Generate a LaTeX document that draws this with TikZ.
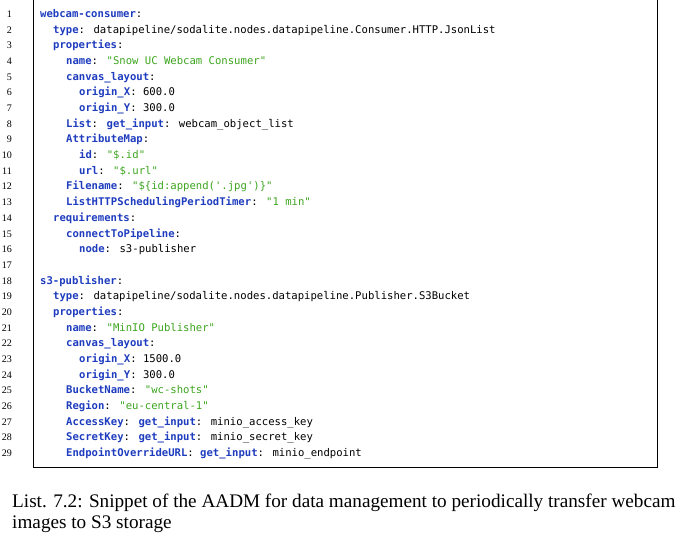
\documentclass[tikz,border=0pt]{standalone}
\usepackage{fontspec}
\setmainfont{Liberation Serif}
\newfontfamily\codefont{DejaVu Sans Mono}
\definecolor{keyblue}{RGB}{30,60,190}
\definecolor{strgreen}{RGB}{60,165,30}
\newcommand{\ky}[1]{\textbf{\color{keyblue}#1}}
\newcommand{\st}[1]{{\color{strgreen}#1}}
\tikzset{
  codeline/.style={anchor=base west, inner sep=0pt, font=\codefont\fontsize{10.6}{12}\selectfont},
  lineno/.style={anchor=base east, inner sep=0pt, font=\fontsize{10}{11}\selectfont},
  caption/.style={anchor=base west, inner sep=0pt, font=\fontsize{19.2}{21}\selectfont}
}
\begin{document}
\begin{tikzpicture}[x=1pt,y=-1pt]
  \useasboundingbox (0,0) rectangle (685,539);
  % Cadre du listing
  \draw [line width=0.8pt] (33,-2) -- (33,467) -- (657,467) -- (657,-2);
  % Lignes de code
  \foreach \n/\ind/\txt in {
    1/0/{\ky{webcam-consumer}:},
    2/1/{\ky{type}: datapipeline/sodalite.nodes.datapipeline.Consumer.HTTP.JsonList},
    3/1/{\ky{properties}:},
    4/2/{\ky{name}: \st{"Snow UC Webcam Consumer"}},
    5/2/{\ky{canvas\_layout}:},
    6/3/{\ky{origin\_X}: 600.0},
    7/3/{\ky{origin\_Y}: 300.0},
    8/2/{\ky{List}: \ky{get\_input}: webcam\_object\_list},
    9/2/{\ky{AttributeMap}:},
    10/3/{\ky{id}: \st{"\$.id"}},
    11/3/{\ky{url}: \st{"\$.url"}},
    12/2/{\ky{Filename}: \st{"\$\{id:append('.jpg')\}"}},
    13/2/{\ky{ListHTTPSchedulingPeriodTimer}: \st{"1 min"}},
    14/1/{\ky{requirements}:},
    15/2/{\ky{connectToPipeline}:},
    16/3/{\ky{node}: s3-publisher},
    17/0/{},
    18/0/{\ky{s3-publisher}:},
    19/1/{\ky{type}: datapipeline/sodalite.nodes.datapipeline.Publisher.S3Bucket},
    20/1/{\ky{properties}:},
    21/2/{\ky{name}: \st{"MinIO Publisher"}},
    22/2/{\ky{canvas\_layout}:},
    23/3/{\ky{origin\_X}: 1500.0},
    24/3/{\ky{origin\_Y}: 300.0},
    25/2/{\ky{BucketName}: \st{"wc-shots"}},
    26/2/{\ky{Region}: \st{"eu-central-1"}},
    27/2/{\ky{AccessKey}: \ky{get\_input}: minio\_access\_key},
    28/2/{\ky{SecretKey}: \ky{get\_input}: minio\_secret\_key},
    29/2/{\ky{EndpointOverrideURL}: \ky{get\_input}: minio\_endpoint}}
  {
    \pgfmathsetmacro{\y}{17.5 + (\n-1)*15.68}
    \node [lineno] (n\n) at (12,\y) {\n};
    \node [codeline] (l\n) at (40+\ind*13,\y) {\txt};
  }
  % Légende
  \node [caption] (cap1) at (12,507) {List. 7.2: Snippet of the AADM for data management to periodically transfer webcam};
  \node [caption] (cap2) at (12,528) {images to S3 storage};
\end{tikzpicture}
\end{document}
